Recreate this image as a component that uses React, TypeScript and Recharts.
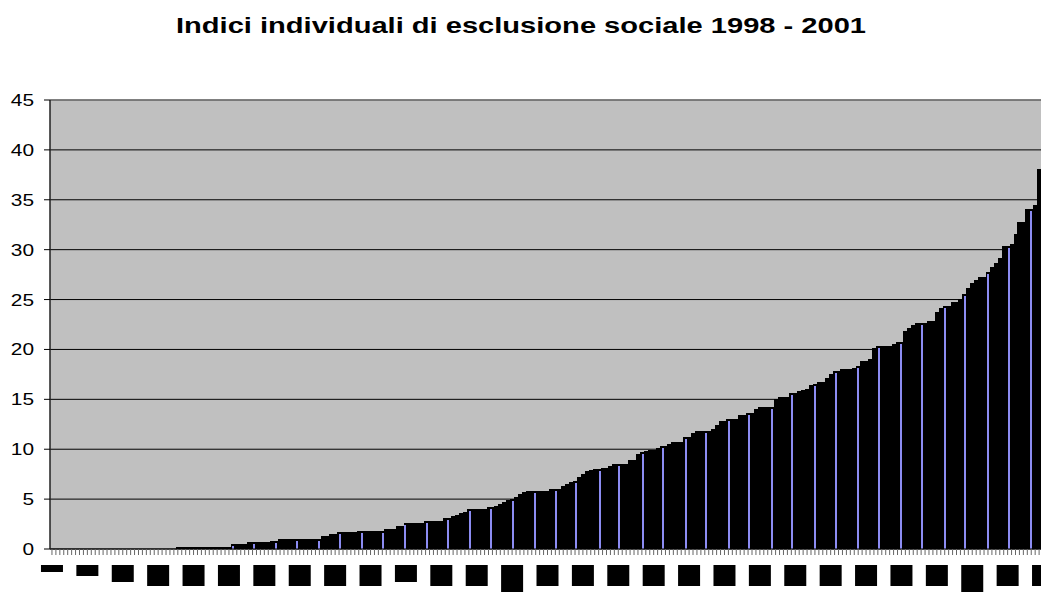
import React from 'react';
import {
  BarChart,
  Bar,
  XAxis,
  YAxis,
  CartesianGrid,
  ReferenceLine
} from 'recharts';

// individual social exclusion index, one bar per person, sorted ascending
const indexValues: number[] = [
  0, 0, 0, 0, 0, 0, 0, 0, 0, 0,
  0, 0, 0, 0, 0, 0, 0, 0, 0, 0,
  0, 0, 0, 0, 0, 0, 0, 0, 0, 0,
  0, 0, 0.2, 0.2, 0.2, 0.2, 0.2, 0.2, 0.2, 0.2,
  0.2, 0.2, 0.2, 0.2, 0.2, 0.2, 0.5, 0.5, 0.5, 0.5,
  0.7, 0.7, 0.7, 0.7, 0.7, 0.7, 0.85, 0.85, 1.05, 1.05,
  1.05, 1.05, 1.05, 1.05, 1.05, 1.05, 1.05, 1.05, 1.05, 1.3,
  1.3, 1.5, 1.5, 1.7, 1.7, 1.7, 1.7, 1.7, 1.85, 1.85,
  1.85, 1.85, 1.85, 1.85, 1.85, 2.05, 2.05, 2.05, 2.3, 2.3,
  2.6, 2.6, 2.6, 2.6, 2.6, 2.8, 2.8, 2.8, 2.8, 2.8,
  3.1, 3.1, 3.3, 3.4, 3.6, 3.7, 4.0, 4.0, 4.0, 4.0,
  4.0, 4.2, 4.2, 4.3, 4.5, 4.7, 4.9, 5.0, 5.2, 5.5,
  5.7, 5.8, 5.8, 5.8, 5.8, 5.8, 5.8, 6.0, 6.0, 6.0,
  6.3, 6.5, 6.7, 6.8, 7.2, 7.5, 7.8, 7.9, 8.0, 8.0,
  8.1, 8.1, 8.3, 8.5, 8.5, 8.5, 8.5, 8.9, 8.9, 9.5,
  9.7, 9.8, 9.9, 9.9, 10.1, 10.3, 10.3, 10.5, 10.7, 10.7,
  10.7, 11.2, 11.2, 11.65, 11.85, 11.85, 11.85, 11.85, 12.05, 12.45,
  12.85, 12.85, 13.05, 13.05, 13.05, 13.45, 13.45, 13.65, 13.65, 14.05,
  14.25, 14.25, 14.25, 14.25, 15.05, 15.25, 15.25, 15.25, 15.65, 15.65,
  15.8, 15.9, 16.0, 16.4, 16.5, 16.7, 16.7, 17.1, 17.5, 17.8,
  17.8, 18.0, 18.0, 18.0, 18.1, 18.3, 18.8, 18.8, 19.0, 20.1,
  20.3, 20.3, 20.3, 20.3, 20.5, 20.7, 20.7, 21.8, 22.1, 22.4,
  22.7, 22.7, 22.7, 22.9, 22.9, 23.8, 24.2, 24.4, 24.4, 24.8,
  24.8, 25.1, 25.6, 26.2, 26.7, 27.0, 27.3, 27.3, 27.75, 28.3,
  28.7, 29.2, 30.4, 30.4, 30.6, 31.6, 32.8, 32.8, 34.1, 34.1,
  34.5, 38.1, 40.0
];

const yTicks = [0, 5, 10, 15, 20, 25, 30, 35, 40, 45];

// the category labels come out as solid black blocks, one every 9 bars
const LABEL_EVERY = 9;
const LABEL_BLOCK_HEIGHTS = [
  7, 11, 17, 21, 21, 21, 21, 21, 21, 21,
  17, 21, 21, 27, 21, 21, 21, 21, 21, 21,
  21, 21, 21, 21, 21, 21, 27, 21, 21
];

// thin blue fill that peeks through the black borders every few bars
const STRIPE_START = 46.2;
const STRIPE_PERIOD = 5.486;

const data = indexValues.map((v, i) => ({ id: i + 1, value: v }));

const FONT = '"Liberation Sans", Arial, sans-serif';

const StripedBar = (props: any) => {
  const { x, y, width, height, index } = props;
  if (!height || height <= 0) return <g />;
  const k = Math.ceil((index - STRIPE_START) / STRIPE_PERIOD);
  const p = STRIPE_START + k * STRIPE_PERIOD;
  const hasStripe = index >= 46 && p < index + 1 && height > 2;
  // keep the stripe inside this bar so the next one doesn't paint over it
  const sx = Math.round(x) + Math.min(Math.round((p - index) * 4), 2);
  return (
    <g>
      <rect x={x} y={y} width={width + 1} height={height} fill="#000" shapeRendering="crispEdges" />
      {hasStripe && (
        <rect x={sx} y={y + 2} width={2} height={height - 2} fill="#8c8cf2" shapeRendering="crispEdges" />
      )}
    </g>
  );
};

const YTick = (props: any) => {
  const { x, y, payload } = props;
  const label = String(payload.value);
  return (
    <text
      x={x - 8}
      y={y}
      dy={6}
      textAnchor="end"
      fontSize={16}
      fontFamily={FONT}
      fill="#000"
      textLength={label.length * 11.6}
      lengthAdjust="spacingAndGlyphs"
    >
      {label}
    </text>
  );
};

const XTick = (props: any) => {
  const { x, y, payload } = props;
  const i = props.index ?? payload.index;
  if (i % LABEL_EVERY !== 0) return <g />;
  const h = LABEL_BLOCK_HEIGHTS[i / LABEL_EVERY] ?? 21;
  return <rect x={x - 11} y={y} width={22} height={h} fill="#000" />;
};

const App: React.FC = () => {
  return (
    <div
      style={{
        position: 'absolute',
        left: 0,
        top: 0,
        width: 1041,
        height: 594,
        overflow: 'hidden',
        background: '#fff'
      }}
    >
      <svg width={1041} height={60} style={{ position: 'absolute', left: 0, top: 0 }}>
        <text
          x={521}
          y={33}
          textAnchor="middle"
          fontSize={22}
          fontWeight="bold"
          fontFamily={FONT}
          fill="#000"
          textLength={690}
          lengthAdjust="spacingAndGlyphs"
        >
          Indici individuali di esclusione sociale 1998 - 2001
        </text>
      </svg>
      <div style={{ position: 'absolute', left: 0, top: 0 }}>
        <BarChart
          width={1045}
          height={594}
          data={data}
          margin={{ top: 100, right: 0, left: 0, bottom: 0 }}
          barCategoryGap={0}
          barGap={0}
        >
          <CartesianGrid vertical={false} stroke="#000" fill="#c0c0c0" fillOpacity={1} />
          <XAxis
            dataKey="id"
            interval={0}
            height={45}
            axisLine={{ stroke: '#000' }}
            tickLine={{ stroke: '#666' }}
            tickSize={6}
            tickMargin={10}
            tick={<XTick />}
          />
          <YAxis
            width={50}
            domain={[0, 45]}
            ticks={yTicks}
            interval={0}
            axisLine={{ stroke: '#222', strokeWidth: 1.5 }}
            tickLine={{ stroke: '#000' }}
            tickSize={6}
            tick={<YTick />}
          />
          <ReferenceLine y={45} stroke="#808080" strokeWidth={1.5} />
          <Bar dataKey="value" fill="#000" shape={<StripedBar />} isAnimationActive={false} />
        </BarChart>
      </div>
    </div>
  );
};

export default App;
